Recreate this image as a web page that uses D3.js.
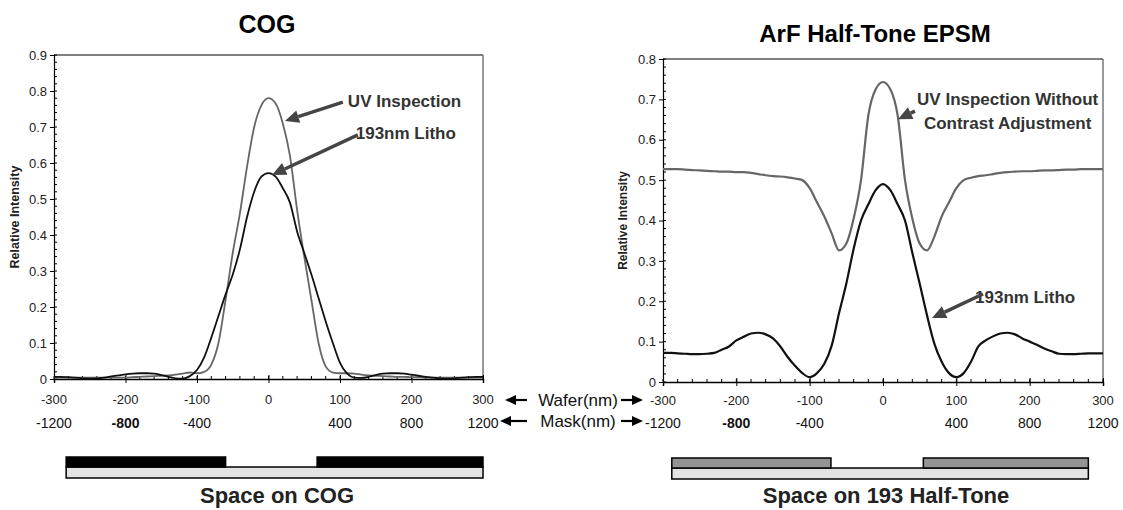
<!DOCTYPE html>
<html><head><meta charset="utf-8">
<script src="https://cdn.jsdelivr.net/npm/d3@7"></script>
<style>
html,body{margin:0;padding:0;background:#fff;}
svg{display:block;font-family:"Liberation Sans",Arial,Helvetica,sans-serif;}
</style></head>
<body><svg id="c" width="1123" height="510"></svg>
<script>
// ---------- DATA ----------
const waferX = d3.range(-300, 301, 10); // nm on wafer, 61 points
const cogLitho = [0.006,0.006,0.005,0.004,0.002,0.001,0.002,0.004,0.007,0.010,
  0.013,0.015,0.016,0.016,0.015,0.011,0.006,0.002,0.001,0.008,
  0.025,0.060,0.115,0.175,0.235,0.290,0.360,0.450,0.520,0.562,
  0.572,
  0.562,0.530,0.490,0.410,0.350,0.290,0.225,0.160,0.100,0.045,
  0.015,0.004,0.003,0.006,0.011,0.015,0.016,0.016,0.015,0.012,
  0.009,0.006,0.004,0.002,0.001,0.002,0.004,0.005,0.006,0.006];
const cogUV = [0.004,0.004,0.004,0.004,0.004,0.004,0.004,0.004,0.004,0.004,
  0.004,0.005,0.006,0.007,0.008,0.009,0.010,0.012,0.015,0.018,
  0.016,0.020,0.040,0.100,0.220,0.350,0.460,0.590,0.700,0.760,
  0.780,
  0.765,0.710,0.620,0.470,0.340,0.220,0.100,0.035,0.018,0.016,
  0.016,0.015,0.012,0.010,0.009,0.008,0.007,0.006,0.006,0.005,
  0.005,0.004,0.004,0.004,0.004,0.004,0.004,0.004,0.004,0.004];
const epsmUV = [0.527,0.527,0.527,0.526,0.525,0.524,0.523,0.522,0.521,0.521,
  0.520,0.520,0.518,0.515,0.512,0.510,0.509,0.507,0.504,0.500,
  0.480,0.445,0.410,0.368,0.326,0.343,0.405,0.500,0.660,0.725,
  0.743,
  0.725,0.660,0.500,0.405,0.343,0.326,0.360,0.410,0.445,0.480,
  0.500,0.506,0.510,0.512,0.515,0.518,0.520,0.521,0.522,0.522,
  0.523,0.524,0.524,0.525,0.526,0.526,0.527,0.527,0.527,0.527];
const epsmLitho = [0.072,0.072,0.071,0.070,0.069,0.069,0.070,0.072,0.080,0.088,
  0.103,0.112,0.120,0.122,0.118,0.108,0.088,0.062,0.040,0.022,
  0.012,0.022,0.045,0.090,0.170,0.244,0.330,0.400,0.440,0.475,
  0.490,
  0.475,0.440,0.400,0.320,0.244,0.165,0.095,0.050,0.022,0.012,
  0.022,0.050,0.088,0.103,0.113,0.120,0.122,0.118,0.108,0.100,
  0.092,0.083,0.076,0.070,0.069,0.069,0.070,0.071,0.071,0.071];

const waferTicks = [-300,-200,-100,0,100,200,300];
const maskTicks = [-1200,-800,-400,400,800,1200];
const cogYTicks = [0,0.1,0.2,0.3,0.4,0.5,0.6,0.7,0.8,0.9];
const epsmYTicks = [0,0.1,0.2,0.3,0.4,0.5,0.6,0.7,0.8];

// mask schematic blocks in wafer nm
const cogSubstrate = [-283, 300];
const cogChrome = [[-283,-60],[68,300]];
const epsmSubstrate = [-288, 280];
const epsmShifter = [[-288,-71],[55,280]];

// ---------- DRAW ----------
const svg = d3.select("#c");
const GRAY = "#666", BLACK = "#111", ARROW = "#454545";

function arrowPath(g, x1, y1, x2, y2, opts) {
  const o = Object.assign({w:3.5, hl:14, hw:6.5, color:ARROW}, opts||{});
  const a = Math.atan2(y2-y1, x2-x1);
  const bx = x2 - o.hl*Math.cos(a), by = y2 - o.hl*Math.sin(a);
  g.append("line").attr("x1",x1).attr("y1",y1).attr("x2",bx).attr("y2",by)
    .attr("stroke",o.color).attr("stroke-width",o.w);
  const px = -Math.sin(a)*o.hw, py = Math.cos(a)*o.hw;
  g.append("path").attr("d",`M${x2},${y2}L${bx+px},${by+py}L${bx-px},${by-py}Z`)
    .attr("fill",o.color);
}

function chart(cfg) {
  const g = svg.append("g");
  const x = d3.scaleLinear().domain([-300,300]).range([cfg.left, cfg.right]);
  const y = d3.scaleLinear().domain([0, cfg.ymax]).range([cfg.bottom, cfg.top]);

  // title
  g.append("text").attr("x", cfg.titleX).attr("y", cfg.titleY).attr("text-anchor","middle")
    .attr("font-size", cfg.titleSize).attr("font-weight","bold").text(cfg.title);

  // frame top/right
  g.append("line").attr("x1",x(-300)).attr("x2",x(300)).attr("y1",y(cfg.ymax)).attr("y2",y(cfg.ymax))
    .attr("stroke","#000").attr("stroke-width",1.2);
  g.append("line").attr("x1",x(300)).attr("x2",x(300)).attr("y1",y(cfg.ymax)).attr("y2",y(0))
    .attr("stroke","#777").attr("stroke-width",1.5);

  // y axis
  const ya = g.append("g").attr("transform",`translate(${x(-300)},0)`)
    .call(d3.axisLeft(y).tickValues(cfg.yTicks).tickSize(4).tickPadding(3)
      .tickFormat(d => d===0 ? "0" : d3.format(".1f")(d)));
  ya.select(".domain").attr("stroke","#000").attr("stroke-width",1.2);
  ya.selectAll("text").attr("font-size",13).attr("fill","#222")
    .attr("font-family","Liberation Sans,Arial,sans-serif");
  // y minor ticks (inside)
  g.selectAll(".ymin").data(d3.range(0, cfg.ymax+0.0001, 0.02)).enter().append("line")
    .attr("x1",x(-300)).attr("x2",x(-300)+3).attr("y1",d=>y(d)).attr("y2",d=>y(d))
    .attr("stroke","#000").attr("stroke-width",1);

  // x axis
  const xa = g.append("g").attr("transform",`translate(0,${y(0)})`)
    .call(d3.axisBottom(x).tickValues(waferTicks).tickSize(4).tickFormat(""));
  xa.select(".domain").attr("stroke","#000").attr("stroke-width",1.5);
  xa.selectAll(".tick line").attr("y1",-4).attr("stroke","#000");
  g.selectAll(".xmin").data(d3.range(-300,301,20)).enter().append("line")
    .attr("x1",d=>x(d)).attr("x2",d=>x(d)).attr("y1",y(0)).attr("y2",y(0)-3)
    .attr("stroke","#000").attr("stroke-width",1);

  // wafer labels
  g.selectAll(".wl").data(waferTicks).enter().append("text")
    .attr("x",d=>x(d)).attr("y",cfg.waferY).attr("text-anchor","middle").attr("font-size",13)
    .attr("fill","#222").text(d=>d);
  // mask labels
  g.selectAll(".ml").data(maskTicks).enter().append("text")
    .attr("x",d=>x(d/4)).attr("y",cfg.maskY).attr("text-anchor","middle").attr("font-size",cfg.maskSize)
    .attr("font-weight",d=>d===-800?"bold":cfg.maskWeight).attr("fill","#111").text(d=>d);

  // y label
  g.append("text").attr("transform",`translate(${cfg.ylabX},${(y(0)+y(cfg.ymax))/2}) rotate(-90)`)
    .attr("text-anchor","middle").attr("font-size",cfg.ylabSize).attr("font-weight","bold")
    .attr("fill","#222").text("Relative Intensity");

  // lines
  const line = (vals) => d3.line().x((d,i)=>x(waferX[i])).y(d=>y(d)).curve(d3.curveMonotoneX)(vals);
  cfg.series.forEach(s => {
    g.append("path").attr("d", line(s.values)).attr("fill","none")
      .attr("stroke", s.color).attr("stroke-width", s.w).attr("stroke-linejoin","round");
  });

  // annotations
  cfg.notes.forEach(n => {
    n.lines.forEach((t,i) => {
      g.append("text").attr("x", x(n.tx)).attr("y", y(n.ty) + i*24)
        .attr("text-anchor", n.anchor || "start").attr("font-size",17).attr("font-weight","bold")
        .attr("fill","#333").text(t);
    });
    arrowPath(g, x(n.from[0]), y(n.from[1]), x(n.to[0]), y(n.to[1]));
  });

  // mask schematic
  const sb = cfg.schem;
  g.append("rect").attr("x",x(sb.sub[0])).attr("width",x(sb.sub[1])-x(sb.sub[0]))
    .attr("y",sb.subTop).attr("height",sb.subH).attr("fill","#e3e3e3").attr("stroke","#000").attr("stroke-width",1.5);
  sb.blocks.forEach(b => {
    g.append("rect").attr("x",x(b[0])).attr("width",x(b[1])-x(b[0]))
      .attr("y",sb.subTop - sb.blkH).attr("height",sb.blkH).attr("fill",sb.fill)
      .attr("stroke","#000").attr("stroke-width",1.5);
  });
  g.append("text").attr("x",cfg.capX).attr("y",503).attr("text-anchor","middle")
    .attr("font-size",22).attr("font-weight","bold").attr("fill","#222").text(cfg.caption);
}

chart({
  left:54, right:483, top:55, bottom:379, ymax:0.9, yTicks:cogYTicks,
  title:"COG", titleX:267, titleY:33, titleSize:25,
  waferY:404, maskY:428, maskSize:14, maskWeight:"normal",
  ylabX:19, ylabSize:12.5,
  series:[{values:cogUV, color:GRAY, w:1.8},{values:cogLitho, color:BLACK, w:1.8}],
  notes:[
    {lines:["UV Inspection"], tx:111, ty:0.755, from:[104,0.769], to:[23,0.717]},
    {lines:["193nm Litho"], tx:122, ty:0.668, from:[125,0.678], to:[5,0.567]}
  ],
  schem:{sub:cogSubstrate, blocks:cogChrome, subTop:467, subH:11, blkH:10, fill:"#000"},
  caption:"Space on COG", capX:277
});

chart({
  left:663, right:1103, top:59, bottom:382, ymax:0.8, yTicks:epsmYTicks,
  title:"ArF Half-Tone EPSM", titleX:875, titleY:42, titleSize:24,
  waferY:405, maskY:428, maskSize:14, maskWeight:"normal",
  ylabX:627, ylabSize:12,
  series:[{values:epsmUV, color:GRAY, w:2.2},{values:epsmLitho, color:BLACK, w:2.2}],
  notes:[
    {lines:["UV Inspection Without","Contrast Adjustment"], tx:170, ty:0.687, anchor:"middle", from:[43.6,0.671], to:[20.5,0.651]},
    {lines:["193nm Litho"], tx:125.5, ty:0.196, from:[136.4,0.218], to:[66.8,0.1585]}
  ],
  schem:{sub:epsmSubstrate, blocks:epsmShifter, subTop:468, subH:11, blkH:10, fill:"#949494"},
  caption:"Space on 193 Half-Tone", capX:886
});

// centre axis legend
const mid = svg.append("g");
const rows = [{t:"Wafer(nm)", y:400, l:[527,505], r:[621,643]},{t:"Mask(nm)", y:421, l:[527,500], r:[621,643]}];
rows.forEach(r => {
  mid.append("text").attr("x",578).attr("y",r.y+6).attr("text-anchor","middle")
    .attr("font-size",17).attr("fill","#111").text(r.t);
  arrowPath(mid, r.l[0], r.y, r.l[1], r.y, {w:2.2, hl:11, hw:5, color:"#000"});
  arrowPath(mid, r.r[0], r.y, r.r[1], r.y, {w:2.2, hl:11, hw:5, color:"#000"});
});
</script></body></html>
